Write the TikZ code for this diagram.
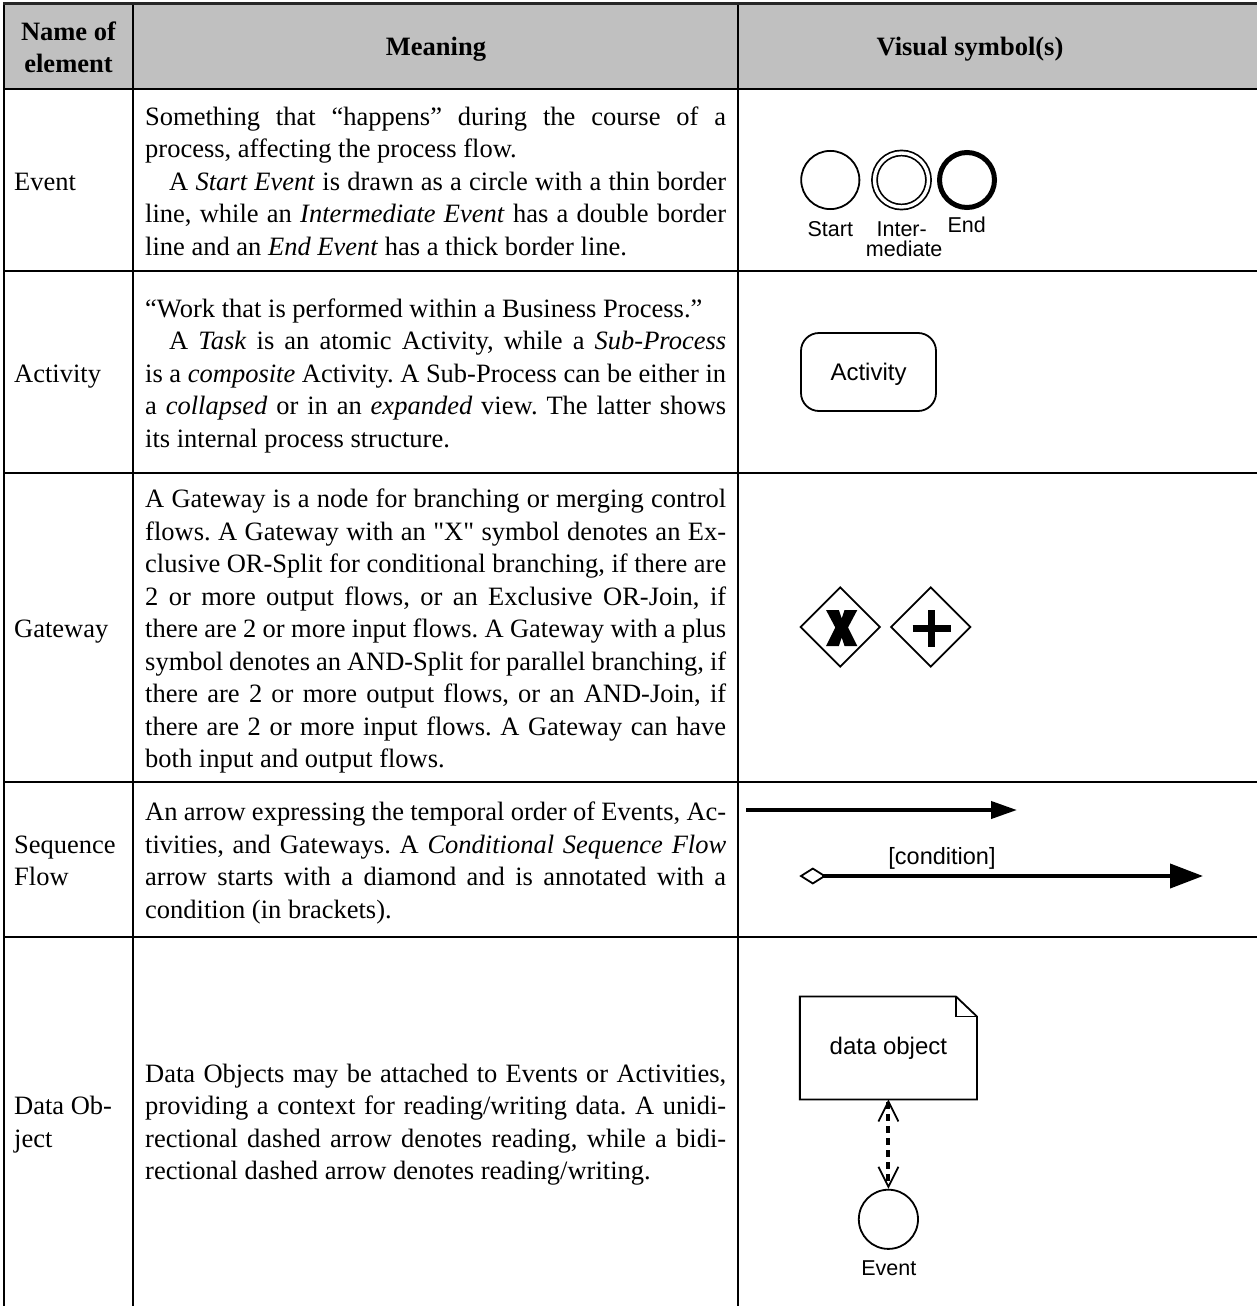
\documentclass[tikz,border=0pt]{standalone}
\usepackage{fontspec}
\setmainfont{Liberation Serif}
\newfontfamily\rawserif{Liberation Serif}
\newfontfamily\arialfont{Liberation Sans}
\usetikzlibrary{arrows.meta,shapes.geometric}
\definecolor{headgray}{HTML}{C0C0C0}
\frenchspacing
\newcommand\bodyfont{\fontsize{26.5pt}{32.5pt}\selectfont}
% full-width justified line and indented justified line of the meaning column
\newcommand\jl[1]{\makebox[581pt][s]{#1}}
\newcommand\ji[1]{\makebox[557pt][s]{#1}}
% straight double quote, without the TeX quote mapping
\newcommand\sq{{\rawserif\char34\relax}}

\begin{document}
\begin{tikzpicture}[x=1pt,y=-1pt,
  grid/.style={line width=1.3pt, black},
  txt/.style={anchor=base west, inner sep=0pt, font=\bodyfont},
  head/.style={anchor=base, inner sep=0pt, font=\bodyfont\bfseries},
  lbl/.style={anchor=base, inner sep=0pt, font=\arialfont\fontsize{21.5pt}{24pt}\selectfont},
  sym/.style={line width=1.8pt},
  evt/.style={circle, draw, inner sep=0pt},
  gate/.style={diamond, draw, sym, minimum width=80pt, minimum height=80pt, inner sep=0pt},
  ]
\useasboundingbox (0,0) rectangle (1257,1306);

% ---------- table frame ----------
\fill[headgray] (4,3.5) rectangle (1257,89);
\foreach \y in {89,271,473,782,937} \draw[grid] (4,\y) -- (1257,\y);
\foreach \x in {4,133,738} \draw[grid] (\x,3.5) -- (\x,1306);
\draw[line width=2.5pt, black!85] (2.75,3.5) -- (1257,3.5);

% ---------- header ----------
\node[head] (h1a) at (68.5,40.5) {Name of};
\node[head] (h1b) at (68.5,72) {element};
\node[head] (h2) at (436,56) {Meaning};
\node[head] (h3) at (970,56) {Visual symbol(s)};

% ---------- element names ----------
\node[txt] (n1) at (14,190) {Event};
\node[txt] (n2) at (14,382) {Activity};
\node[txt] (n3) at (14,637.5) {Gateway};
\node[txt] (n4a) at (14,853.25) {Sequence};
\node[txt] (n4b) at (14,885.75) {Flow};
\node[txt] (n5a) at (14,1114.5) {Data Ob-};
\node[txt] (n5b) at (14,1147) {ject};

% ---------- meanings ----------
% Event
\node[txt] (ev1) at (145,125)   {\jl{Something that “happens” during the course of a}};
\node[txt] (ev2) at (145,157.5) {process, affecting the process flow.};
\node[txt] (ev3) at (169,190)   {\ji{A \textit{Start Event} is drawn as a circle with a thin border}};
\node[txt] (ev4) at (145,222.5) {\jl{line, while an \textit{Intermediate Event} has a double border}};
\node[txt] (ev5) at (145,255)   {line and an \textit{End Event} has a thick border line.};
% Activity
\node[txt] (ac1) at (145,317)   {“Work that is performed within a Business Process.”};
\node[txt] (ac2) at (169,349.5) {\ji{A \textit{Task} is an atomic Activity, while a \textit{Sub-Process}}};
\node[txt] (ac3) at (145,382)   {\jl{is a \textit{composite} Activity. A Sub-Process can be either in}};
\node[txt] (ac4) at (145,414.5) {\jl{a \textit{collapsed} or in an \textit{expanded} view. The latter shows}};
\node[txt] (ac5) at (145,447)   {its internal process structure.};
% Gateway
\node[txt] (gw1) at (145,507.5) {\jl{A Gateway is a node for branching or merging control}};
\node[txt] (gw2) at (145,540)   {\jl{flows. A Gateway with an \sq X\sq{} symbol denotes an Ex-}};
\node[txt] (gw3) at (145,572.5) {\jl{clusive OR-Split for conditional branching, if there are}};
\node[txt] (gw4) at (145,605)   {\jl{2 or more output flows, or an Exclusive OR-Join, if}};
\node[txt] (gw5) at (145,637.5) {\jl{there are 2 or more input flows. A Gateway with a plus}};
\node[txt] (gw6) at (145,670)   {\jl{symbol denotes an AND-Split for parallel branching, if}};
\node[txt] (gw7) at (145,702.5) {\jl{there are 2 or more output flows, or an AND-Join, if}};
\node[txt] (gw8) at (145,735)   {\jl{there are 2 or more input flows. A Gateway can have}};
\node[txt] (gw9) at (145,767.5) {both input and output flows.};
% Sequence Flow
\node[txt] (sf1) at (145,820.75) {\jl{An arrow expressing the temporal order of Events, Ac-}};
\node[txt] (sf2) at (145,853.25) {\jl{tivities, and Gateways. A \textit{Conditional Sequence Flow}}};
\node[txt] (sf3) at (145,885.75) {\jl{arrow starts with a diamond and is annotated with a}};
\node[txt] (sf4) at (145,918.25) {condition (in brackets).};
% Data Object
\node[txt] (do1) at (145,1082)   {\jl{Data Objects may be attached to Events or Activities,}};
\node[txt] (do2) at (145,1114.5) {\jl{providing a context for reading/writing data. A unidi-}};
\node[txt] (do3) at (145,1147)   {\jl{rectional dashed arrow denotes reading, while a bidi-}};
\node[txt] (do4) at (145,1179.5) {rectional dashed arrow denotes reading/writing.};

% ---------- symbols: events ----------
\node[evt, line width=1.8pt, minimum size=58.2pt] (estart) at (830.3,180) {};
\node[evt, line width=1.7pt, double, double distance=3.4pt, minimum size=54pt] (einter) at (901.5,180) {};
\node[evt, line width=5pt, minimum size=55pt] (eend) at (967,180) {};
\node[lbl] (lstart) at (830.3,236) {Start};
\node[lbl] (linter) at (901.7,236) {Inter-};
\node[lbl] (lmed) at (904.2,256.7) {mediate};
\node[lbl] (lend) at (966.7,232.7) {End};

% ---------- symbols: activity ----------
\node[draw, sym, rounded corners=18pt, minimum width=135pt, minimum height=78pt,
      inner sep=0pt, text depth=0pt, font=\arialfont\fontsize{24pt}{28pt}\selectfont]
      (act) at (868.5,372) {Activity};

% ---------- symbols: gateways ----------
\node[gate] (gx) at (840.3,627) {};
\node[gate] (gp) at (930.7,627) {};
% heavy X mark
\begin{scope}[shift={(gx.center)}, shift={(1.4,1)}]
  \fill (-15.7,-18) -- (-2.8,-18) -- (0,-9.5) -- (2.8,-18) -- (15.6,-18) -- (6.3,-0.5)
     -- (15.6,18) -- (2.8,18) -- (0,9.5) -- (-2.8,18) -- (-15.7,18) -- (-6.4,-0.5) -- cycle;
\end{scope}
% plus mark
\begin{scope}[shift={(gp.center)}]
  \draw[line width=7pt] (-18,1.3) -- (20,1.3);
  \draw[line width=7pt] (1,-17) -- (1,20.3);
\end{scope}

% ---------- symbols: sequence flows ----------
\coordinate (s1a) at (746,810);
\coordinate (s1b) at (1017,810);
\draw[line width=4pt, -{Triangle[length=26pt,width=17pt]}] (s1a) -- (s1b);
\coordinate (s2a) at (799.3,876);
\coordinate (s2b) at (1203,876);
\draw[line width=4pt,
  {Diamond[open,length=27pt,width=17pt,line width=1.8pt]}-{Triangle[length=33pt,width=24pt]}]
  (s2a) -- (s2b);
\node[anchor=base, inner sep=0pt, font=\arialfont\fontsize{23.5pt}{28pt}\selectfont]
  (cond) at (942,864) {[condition]};

% ---------- symbols: data object ----------
\node[minimum width=176.7pt, minimum height=102.6pt, inner sep=0pt,
      font=\arialfont\fontsize{24pt}{28pt}\selectfont] (dobj) at (888.4,1048) {data object};
\draw[sym, line join=miter]
  (dobj.north west) -- ([xshift=-21pt]dobj.north east) -- ([yshift=-20pt]dobj.north east)
  -- (dobj.south east) -- (dobj.south west) -- cycle;
\draw[sym] ([xshift=-21pt]dobj.north east) -- ([xshift=-21pt,yshift=-20pt]dobj.north east)
  -- ([yshift=-20pt]dobj.north east);
\node[evt, sym, minimum size=59.2pt] (dev) at (888.4,1219.3) {};
\node[lbl] (devl) at (888.8,1275) {Event};
\draw[line width=4pt, dash pattern=on 7pt off 5pt,
  {Straight Barb[length=20pt,width=20pt,line width=1.8pt]}-{Straight Barb[length=20pt,width=20pt,line width=1.8pt]}]
  (dobj.south) -- (dev.north);
\end{tikzpicture}
\end{document}
